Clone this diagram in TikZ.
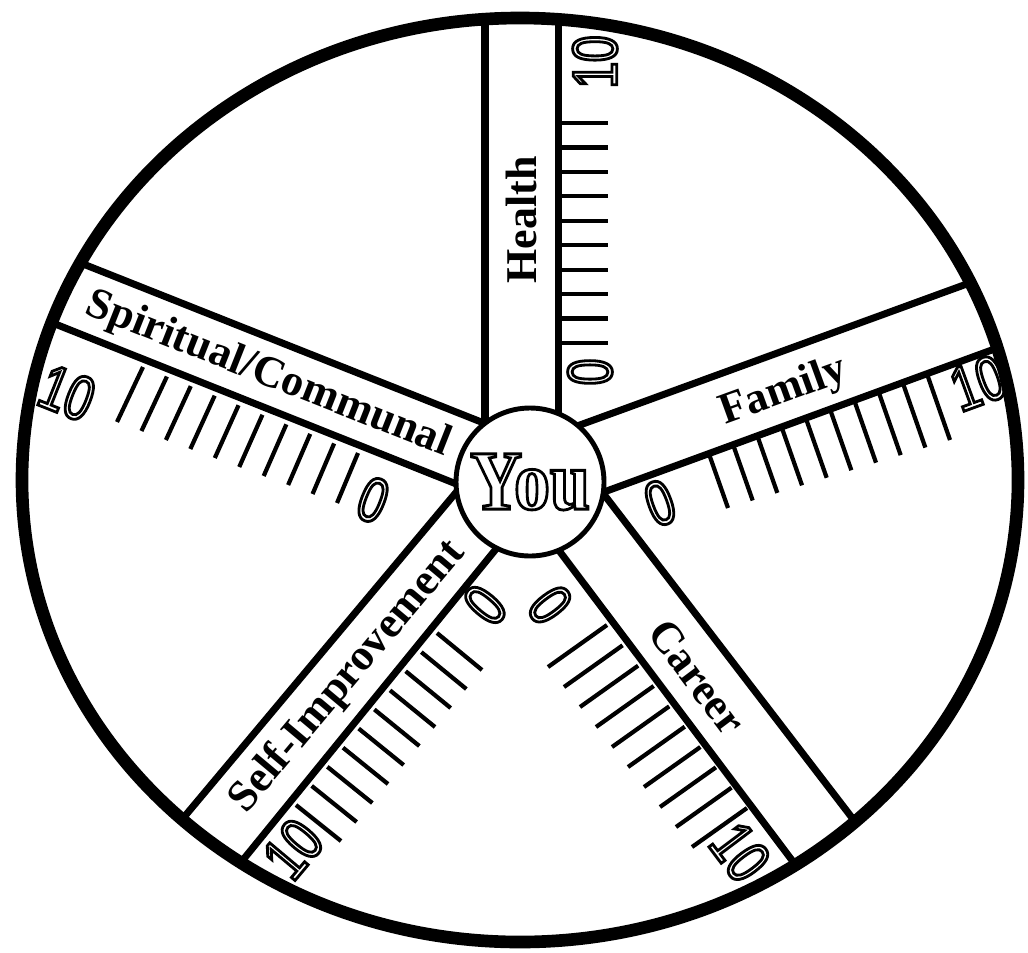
\documentclass[tikz,border=0pt]{standalone}
\usepackage{fontspec}
\setmainfont{Liberation Serif}
\newfontfamily\numfont[FakeStretch=0.75]{Liberation Sans}
\newfontfamily\youfont[FakeStretch=0.85]{Liberation Serif Bold}
\usetikzlibrary{calc}

\newcommand\hollowtext[1]{\special{pdf:code q 1 Tr 0.8 w}#1\special{pdf:code Q}}

\begin{document}
\begin{tikzpicture}[
  x=0.1mm, y=-0.1mm,
  rim/.style={line width=3.6pt},
  band/.style={line width=2pt},
  tick/.style={line width=1.2pt},
  area/.style={font=\fontsize{12.5}{14}\selectfont\bfseries, inner sep=0pt},
  num/.style={font=\numfont\fontsize{18}{20}\selectfont, inner sep=0pt},
  hub/.style={draw, circle, line width=1.4pt, fill=white, minimum size=14.8mm,
              inner sep=0pt, font=\youfont\fontsize{24}{26}\selectfont}
]
  \useasboundingbox (0,0) rectangle (1028,952);

  \begin{scope}
    \clip (520,480) ellipse [x radius=498, y radius=462];
    \draw[band] (485,470) -- (485,0);
    \draw[band] (558,470) -- (558,0);
    \draw[band] (547,437) -- (1060,250);
    \draw[band] (563,507) -- (1060,325);
    \draw[band] (514,435) -- (0,231);
    \draw[band] (484,495) -- (0,302);
    \draw[band] (479,465) -- (71,952);
    \draw[band] (518,522) -- (168,952);
    \draw[band] (530,512) -- (861,952);
    \draw[band] (586,471) -- (955,952);
  \end{scope}
  \draw[rim] (520,480) ellipse [x radius=498, y radius=462];

  \node[hub] (you) at (530,482) {\hollowtext{You}};

  \coordinate (health-s0) at (559,343);    \coordinate (health-e0) at (608,343);
  \coordinate (health-s9) at (559,123);    \coordinate (health-e9) at (608,123);
  \coordinate (family-s0) at (709,454);    \coordinate (family-e0) at (728,508);
  \coordinate (family-s9) at (927,374);    \coordinate (family-e9) at (950,440);
  \coordinate (spiritual-s0) at (358,453); \coordinate (spiritual-e0) at (337,503);
  \coordinate (spiritual-s9) at (143,367); \coordinate (spiritual-e9) at (117,422);
  \coordinate (selfimp-s0) at (437,633);   \coordinate (selfimp-e0) at (482,670);
  \coordinate (selfimp-s9) at (296,805);   \coordinate (selfimp-e9) at (341,841);
  \coordinate (career-s0) at (607,625);    \coordinate (career-e0) at (548,667);
  \coordinate (career-s9) at (747,808);    \coordinate (career-e9) at (692,847);

  \foreach \lane in {health,family,spiritual,selfimp,career}
    \foreach \k in {0,...,9}
      \draw[tick] ($(\lane-s0)!\k/9!(\lane-s9)$) -- ($(\lane-e0)!\k/9!(\lane-e9)$);

  \node[area, rotate=90]    (health)    at (521,220) {Health};
  \node[area, rotate=20]    (family)    at (784,392) {Family};
  \node[area, rotate=-21.6] (spiritual) at (268,375) {Spiritual/Communal};
  \node[area, rotate=50]    (selfimp)   at (348,677) {Self-Improvement};
  \node[area, rotate=-53]   (career)    at (697,677) {Career};

  \node[num, rotate=90]    (health-0)     at (590,372) {\hollowtext{0}};
  \node[num, rotate=90]    (health-10)    at (595,62)  {\hollowtext{10}};
  \node[num, rotate=20]    (family-0)     at (660,503) {\hollowtext{0}};
  \node[num, rotate=20]    (family-10)    at (978,383) {\hollowtext{10}};
  \node[num, rotate=-21.6] (spiritual-0)  at (373,500) {\hollowtext{0}};
  \node[num, rotate=-21.6] (spiritual-10) at (67,393)  {\hollowtext{10}};
  \node[num, rotate=50]    (selfimp-0)    at (485,605) {\hollowtext{0}};
  \node[num, rotate=50]    (selfimp-10)   at (293,849) {\hollowtext{10}};
  \node[num, rotate=-53]   (career-0)     at (550,605) {\hollowtext{0}};
  \node[num, rotate=-53]   (career-10)    at (740,852) {\hollowtext{10}};
\end{tikzpicture}
\end{document}
